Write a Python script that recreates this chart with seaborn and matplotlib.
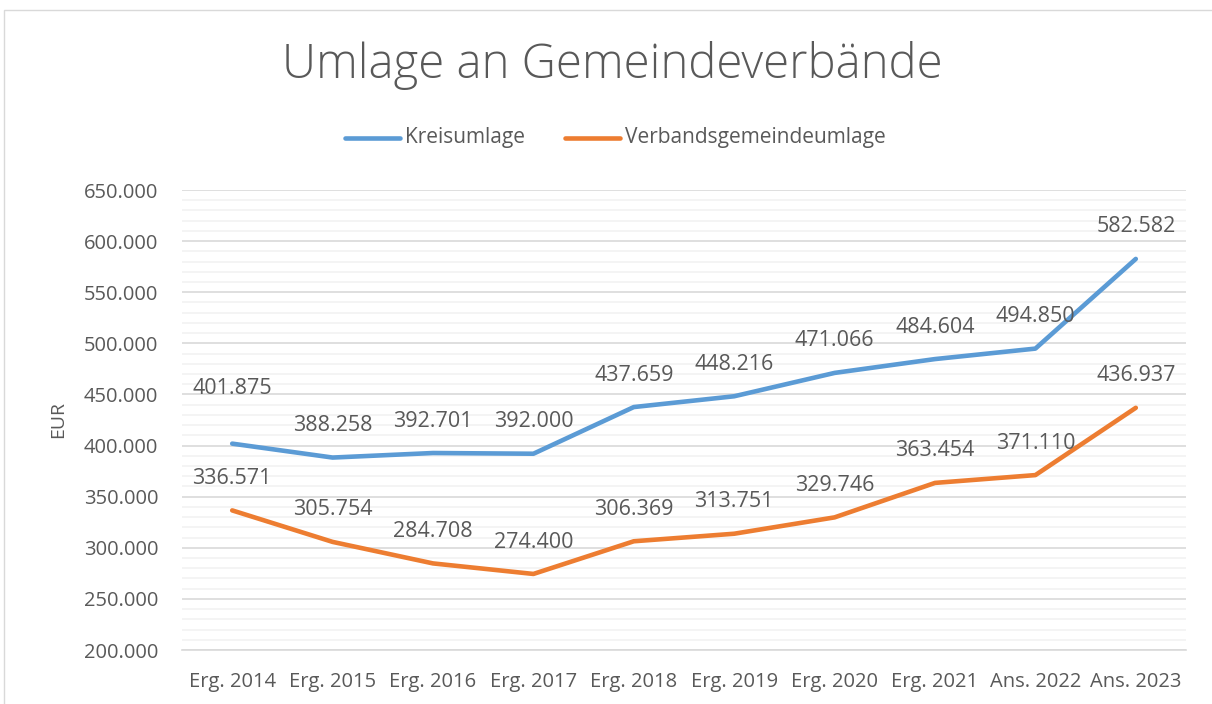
import numpy as np
import pandas as pd
import matplotlib
matplotlib.use("Agg")
import matplotlib.pyplot as plt
import seaborn as sns
from matplotlib.ticker import FuncFormatter, MultipleLocator
from matplotlib.patches import Rectangle

# --- data ---
years = ["Erg. 2014", "Erg. 2015", "Erg. 2016", "Erg. 2017", "Erg. 2018",
         "Erg. 2019", "Erg. 2020", "Erg. 2021", "Ans. 2022", "Ans. 2023"]
kreisumlage = [401875, 388258, 392701, 392000, 437659,
               448216, 471066, 484604, 494850, 582582]
verbandsumlage = [336571, 305754, 284708, 274400, 306369,
                  313751, 329746, 363454, 371110, 436937]

COLORS = {"Kreisumlage": "#5B9BD5", "Verbandsgemeindeumlage": "#ED7D31"}
TEXT = "#595959"

sns.set_theme(style="white")
plt.rcParams["font.family"] = ["Open Sans", "DejaVu Sans"]

df = pd.DataFrame({"Jahr": years * 2,
                   "Wert": kreisumlage + verbandsumlage,
                   "Reihe": ["Kreisumlage"] * len(years) + ["Verbandsgemeindeumlage"] * len(years)})
df["x"] = np.tile(np.arange(len(years)), 2)

fig = plt.figure(figsize=(12.12, 7.04), dpi=100)
fig.patches.append(Rectangle((4 / 1212, -0.01), 1.1, 1 - 10 / 704 + 0.01, transform=fig.transFigure,
                             fill=False, edgecolor="#d9d9d9", lw=1.0))
ax = fig.add_axes([182 / 1212, 1 - 650 / 704, (1186 - 182) / 1212, (650 - 190) / 704])

sns.lineplot(data=df, x="x", y="Wert", hue="Reihe", palette=COLORS, lw=3.3,
             ax=ax, legend=False, zorder=3)

ax.set_xlim(-0.5, len(years) - 0.5)
ax.set_ylim(200000, 650000)
ax.yaxis.set_major_locator(MultipleLocator(50000))
ax.yaxis.set_minor_locator(MultipleLocator(10000))
ax.yaxis.set_major_formatter(FuncFormatter(lambda v, p: f"{v:,.0f}".replace(",", ".")))
ax.set_xticks(range(len(years)))
ax.set_xticklabels(years)
ax.grid(axis="y", which="major", color="#d9d9d9", lw=1.2)
ax.grid(axis="y", which="minor", color="#f2f2f2", lw=1.2)
ax.set_axisbelow(True)
for s in ["top", "right", "left"]:
    ax.spines[s].set_visible(False)
ax.spines["bottom"].set_color("#d9d9d9")
ax.spines["bottom"].set_linewidth(1.2)
ax.tick_params(axis="both", which="both", length=0, labelsize=14.5, colors=TEXT)
ax.tick_params(axis="y", pad=17)
ax.tick_params(axis="x", pad=16)
ax.set_xlabel("")
ax.set_ylabel("EUR", fontsize=14, color=TEXT, labelpad=12)

# data labels above points
for series in (kreisumlage, verbandsumlage):
    for i, v in enumerate(series):
        off = 40 if (series is kreisumlage and i == 0) else 23
        ax.annotate(f"{v:,.0f}".replace(",", "."), (i, v), xytext=(0, off),
                    textcoords="offset points", ha="center", va="center",
                    fontsize=15.5, color=TEXT)

fig.text(612 / 1212, 1 - 66 / 704, "Umlage an Gemeindeverbände", ha="center", va="center",
         fontsize=34, color=TEXT, fontweight="light")

# legend
for (name, col), x0 in zip(COLORS.items(), (345, 565)):
    fig.add_artist(plt.Line2D([x0 / 1212, (x0 + 55) / 1212], [1 - 138 / 704] * 2,
                              color=col, lw=3.3, transform=fig.transFigure))
    fig.text((x0 + 60) / 1212, 1 - 138 / 704, name, ha="left", va="center",
             fontsize=15, color=TEXT)

fig.savefig("out.png", dpi=100)
